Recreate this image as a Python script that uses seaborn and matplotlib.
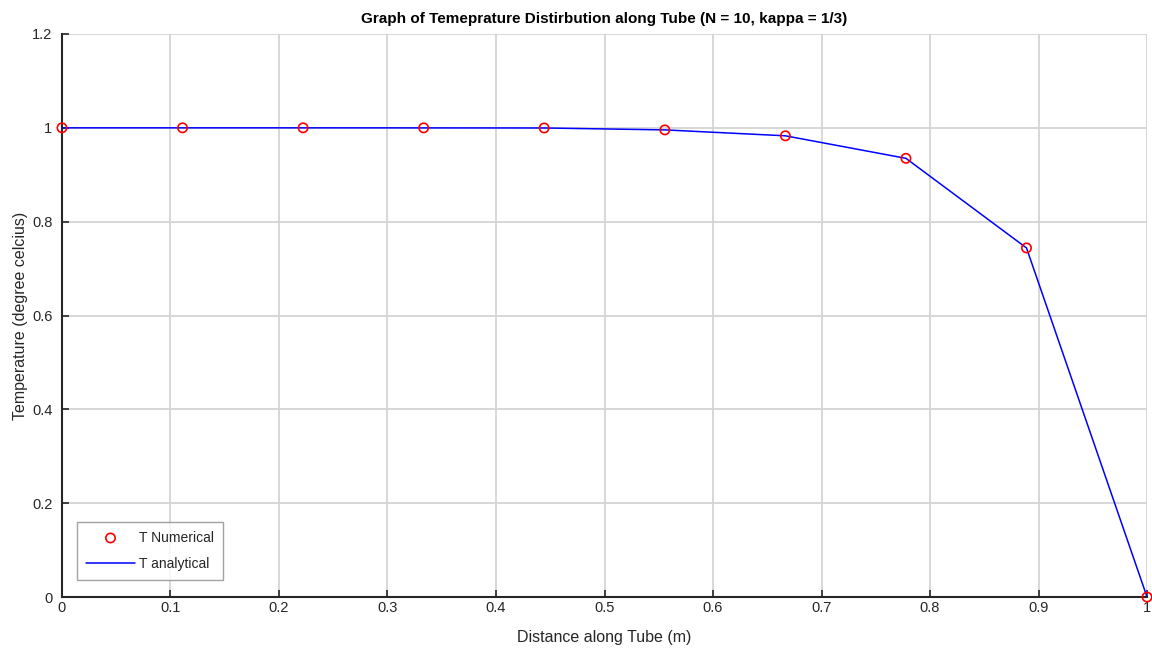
import numpy as np
import pandas as pd
import matplotlib
matplotlib.use("Agg")
import matplotlib.pyplot as plt
import seaborn as sns

# Data
x_pos = [0.0, 0.1111, 0.2222, 0.3333, 0.4444, 0.5556, 0.6667, 0.7778, 0.8889, 1.0]
t_numerical = [1.0, 1.0, 1.0, 0.9999, 0.9997, 0.9956, 0.983, 0.935, 0.744, 0.0]
t_analytical = [1.0, 1.0, 1.0, 0.9999, 0.9997, 0.9956, 0.983, 0.935, 0.744, 0.0]
x_ticks = [0, 0.1, 0.2, 0.3, 0.4, 0.5, 0.6, 0.7, 0.8, 0.9, 1]
x_tick_labels = ["0", "0.1", "0.2", "0.3", "0.4", "0.5", "0.6", "0.7", "0.8", "0.9", "1"]
y_ticks = [0, 0.2, 0.4, 0.6, 0.8, 1.0, 1.2]
y_tick_labels = ["0", "0.2", "0.4", "0.6", "0.8", "1", "1.2"]

df = pd.DataFrame({"x": x_pos, "num": t_numerical, "ana": t_analytical})

sns.set_style("white")
plt.rcParams["font.family"] = ["Liberation Sans", "DejaVu Sans"]

fig = plt.figure(figsize=(11.52, 6.5), dpi=100)
ax = fig.add_axes([0.0538, 0.0815, 0.9419, 0.8662])

sns.scatterplot(data=df, x="x", y="num", ax=ax, marker="o", s=45,
                facecolors="none", edgecolor="red", linewidth=1.2,
                label="T Numerical", zorder=4, clip_on=False)
sns.lineplot(data=df, x="x", y="ana", ax=ax, color="blue", linewidth=1.1,
             label="T analytical", zorder=3)

ax.set_xlim(0, 1)
ax.set_ylim(0, 1.2)
ax.set_xticks(x_ticks)
ax.set_xticklabels(x_tick_labels)
ax.set_yticks(y_ticks)
ax.set_yticklabels(y_tick_labels)
ax.grid(True, color="#d4d4d4", linewidth=1.3)
ax.set_axisbelow(True)

for s in ["top", "right"]:
    ax.spines[s].set_visible(False)
for s in ["left", "bottom"]:
    ax.spines[s].set_color("#262626")
    ax.spines[s].set_linewidth(1.5)

ax.tick_params(axis="x", direction="in", length=5, width=1.2, color="#262626",
               labelsize=10.5, labelcolor="#262626", bottom=True, pad=3)
ax.tick_params(axis="y", direction="in", length=5, width=1.2, color="#262626",
               labelsize=10.5, labelcolor="#262626", left=True, pad=7)

ax.set_xlabel("Distance along Tube (m)", fontsize=11.5, color="#262626", labelpad=11)
ax.set_ylabel("Temperature (degree celcius)", fontsize=11.5, color="#262626", labelpad=3)
ax.set_title("Graph of Temeprature Distirbution along Tube (N = 10, kappa = 1/3)",
             fontsize=11, fontweight="bold", color="black", pad=8)

leg = ax.legend(loc="lower left", bbox_to_anchor=(0.014, 0.030), fontsize=10,
                frameon=True, fancybox=False, edgecolor="#8c8c8c",
                borderpad=0.65, handlelength=3.5, handletextpad=0.3,
                labelspacing=0.9, borderaxespad=0.0)
leg.get_frame().set_linewidth(1.0)

fig.savefig("out.png", dpi=100)
